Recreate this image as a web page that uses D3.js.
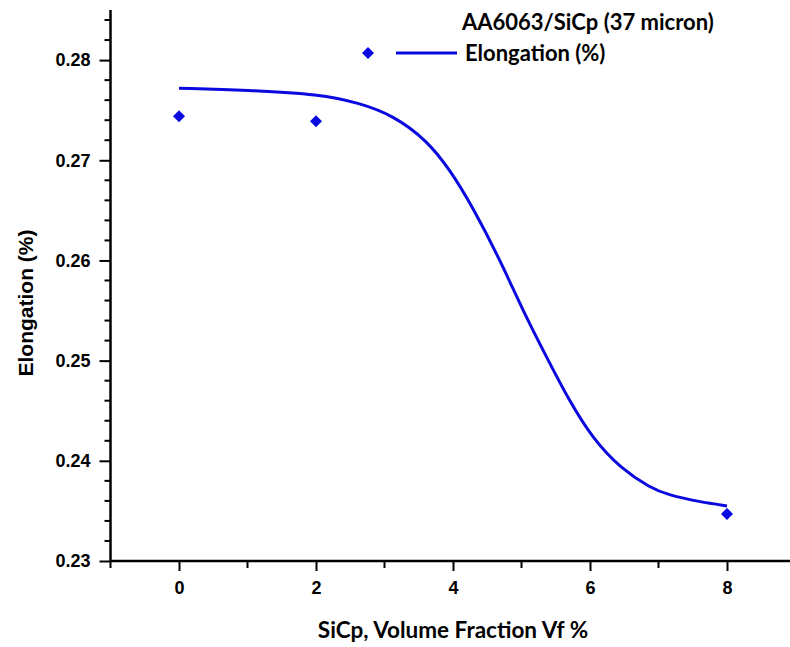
<!DOCTYPE html>
<html><head><meta charset="utf-8">
<script src="https://cdn.jsdelivr.net/npm/d3@7"></script>
<style>html,body{margin:0;padding:0;background:#fff;}</style>
</head><body>
<svg id="c" width="790" height="647"></svg>
<script>
// Data
const pointX = [0, 2, 8];
const pointY = [0.2744, 0.2739, 0.2347];
const curveX = [0, 1.0, 2.06, 2.64, 3.12, 3.62, 3.96, 4.29, 4.69, 5.02, 5.37, 5.68, 6.04, 6.44, 6.88, 7.14, 7.6, 8.0];
const curveY = [0.2772, 0.2770, 0.2766, 0.2757, 0.2745, 0.2720, 0.2690, 0.2653, 0.2600, 0.2550, 0.2503, 0.2462, 0.2422, 0.2393, 0.2373, 0.2366, 0.2359, 0.2355];
const xTicks = [0, 2, 4, 6, 8];
const yTicks = [0.23, 0.24, 0.25, 0.26, 0.27, 0.28];
const legendTitle = "AA6063/SiCp (37 micron)";
const seriesName = "Elongation (%)";
const xTitle = "SiCp, Volume Fraction Vf %";
const yTitle = "Elongation (%)";

const svg = d3.select("#c");
const x = d3.scaleLinear().domain([-1, 9]).range([110.5, 795.5]);
const y = d3.scaleLinear().domain([0.23, 0.285]).range([561, 10]);
const blue = "#0a0ae0";

// minor ticks
const xMinor = d3.range(-1, 10, 2);
const yMinor = d3.range(0, 28).map(i => 0.23 + i * 0.002).filter(v => !yTicks.some(t => Math.abs(t - v) < 1e-6));

const gx = svg.append("g").attr("transform", "translate(0,561)");
gx.call(d3.axisBottom(x).tickValues(xTicks).tickSize(10).tickPadding(10).tickFormat(d3.format("d")));
gx.append("g").selectAll("line").data(xMinor).join("line")
  .attr("x1", d => x(d)).attr("x2", d => x(d)).attr("y1", 0).attr("y2", 7)
  .attr("stroke", "#000").attr("stroke-width", 2);

const gy = svg.append("g").attr("transform", "translate(110.5,0)");
gy.call(d3.axisLeft(y).tickValues(yTicks).tickSize(11).tickPadding(9).tickFormat(d3.format(".2f")));
gy.append("g").selectAll("line").data(yMinor).join("line")
  .attr("y1", d => y(d)).attr("y2", d => y(d)).attr("x1", 0).attr("x2", -6)
  .attr("stroke", "#000").attr("stroke-width", 2);

[gx, gy].forEach(g => {
  g.select(".domain").attr("stroke", "#000").attr("stroke-width", 2.5);
  g.selectAll(".tick line").attr("stroke", "#000").attr("stroke-width", 2);
  g.selectAll(".tick text").attr("fill", "#000")
    .style("font-family", "'Liberation Sans', Arial, sans-serif")
    .style("font-weight", "bold").style("font-size", "18px");
});
gx.select(".domain").attr("d", "M110.5,0H795.5");
gy.select(".domain").attr("d", "M0,10V561");

// curve
const line = d3.line().x((d, i) => x(curveX[i])).y((d, i) => y(curveY[i])).curve(d3.curveBasis);
svg.append("path").datum(curveX).attr("d", line)
  .attr("fill", "none").attr("stroke", blue).attr("stroke-width", 3);

// points
const sym = d3.symbol(d3.symbolSquare, 72);
svg.append("g").selectAll("path").data(pointX).join("path")
  .attr("d", sym)
  .attr("transform", (d, i) => `translate(${x(d)},${y(pointY[i])}) rotate(45)`)
  .attr("fill", blue);

// axis titles
svg.append("text").attr("x", 453).attr("y", 638).attr("text-anchor", "middle")
  .style("font-family", "Lato, 'Open Sans', sans-serif").style("font-weight", "bold").style("font-size", "22.5px")
  .text(xTitle);
svg.append("text").attr("transform", "translate(33,303) rotate(-90)").attr("text-anchor", "middle")
  .style("font-family", "'Liberation Sans', Arial, sans-serif").style("font-weight", "bold").style("font-size", "21px")
  .text(yTitle);

// legend
svg.append("text").attr("x", 462).attr("y", 30)
  .style("font-family", "Lato, 'Open Sans', sans-serif").style("font-weight", "bold").style("font-size", "22px")
  .text(legendTitle);
svg.append("path").attr("d", sym).attr("transform", "translate(368,53) rotate(45)").attr("fill", blue);
svg.append("line").attr("x1", 396).attr("x2", 457).attr("y1", 53).attr("y2", 53)
  .attr("stroke", blue).attr("stroke-width", 3);
svg.append("text").attr("x", 465).attr("y", 61)
  .style("font-family", "Lato, 'Open Sans', sans-serif").style("font-weight", "bold").style("font-size", "22px")
  .text(seriesName);
</script>
</body></html>
